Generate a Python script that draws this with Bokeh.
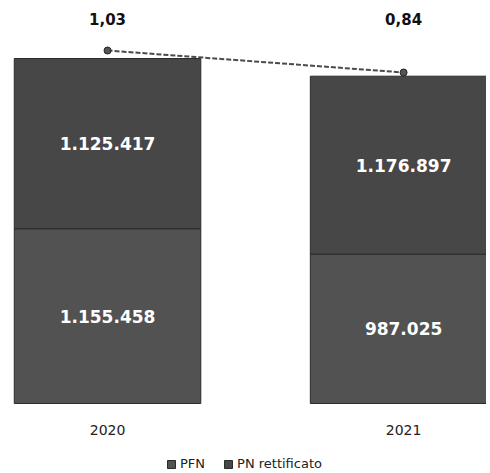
from bokeh.plotting import figure
from bokeh.models import Range1d, Legend, LegendItem, ColumnDataSource
from bokeh.core.properties import value
from bokeh.embed import file_html
from bokeh.resources import INLINE

years = ["2020", "2021"]
pfn = [1155458, 987025]
pn_rettificato = [1125417, 1176897]
ratios = [1.03, 0.84]

def it_num(v):
    return f"{v:,}".replace(",", ".")

def it_dec(v):
    return f"{v:.2f}".replace(".", ",")

xs = list(range(len(years)))
totals = [a + b for a, b in zip(pfn, pn_rettificato)]

W, H = 486, 471
top_pad, left_pad = 8, 8
base_px = 403          # page y of the bar baseline
frame_h = H - top_pad
u = max(totals) / 345.0  # data units per pixel
p = figure(width=W, height=H, output_backend="svg", toolbar_location=None,
           x_range=Range1d(-0.3345, 1.280),
           y_range=Range1d(-(H - base_px) * u, (base_px - top_pad) * u),
           min_border_left=left_pad, min_border_right=0, min_border_top=top_pad,
           min_border_bottom=0, x_axis_location=None, y_axis_location=None)
p.outline_line_color = None
p.grid.visible = False
p.background_fill_color = "white"

# secondary range for ratio line
per_px = (ratios[0] - ratios[1]) / 22.0
r_end = ratios[0] + (50 - top_pad) * per_px
r_start = r_end - frame_h * per_px
p.extra_y_ranges = {"ratio": Range1d(r_start, r_end)}

src = ColumnDataSource(dict(
    x=xs, year=years,
    pfn_top=pfn, pn_bottom=pfn, pn_top=totals,
    pfn_mid=[v / 2 for v in pfn],
    pn_mid=[a + b / 2 for a, b in zip(pfn, pn_rettificato)],
    pfn_lbl=[it_num(v) for v in pfn],
    pn_lbl=[it_num(v) for v in pn_rettificato],
    ratio=ratios,
    ratio_lbl=[it_dec(v) for v in ratios],
    ratio_lbl_y=[r_end - 10 * per_px] * len(ratios),
    year_y=[-26 * u] * len(years),
))

c_pfn = "#525252"
c_pn = "#474747"
r1 = p.vbar(x="x", bottom=0, top="pfn_top", width=0.63, source=src,
            fill_color=c_pfn, line_color="#2a2a2a", line_width=1)
r2 = p.vbar(x="x", bottom="pn_bottom", top="pn_top", width=0.63, source=src,
            fill_color=c_pn, line_color="#2a2a2a", line_width=1)

lbl_kw = dict(text_color="white", text_font=value("DejaVu Sans"),
              text_font_style="bold", text_font_size="17px",
              text_align="center", text_baseline="middle")
p.text(x="x", y="pfn_mid", text="pfn_lbl", source=src, **lbl_kw)
p.text(x="x", y="pn_mid", text="pn_lbl", source=src, **lbl_kw)

p.line(x="x", y="ratio", source=src, y_range_name="ratio",
       line_color="#4a4a4a", line_width=2, line_dash="5 2")
p.scatter(x="x", y="ratio", source=src, y_range_name="ratio",
          marker="circle", size=7, fill_color="#555555", line_color="#222222")
p.text(x="x", y="ratio_lbl_y", text="ratio_lbl", source=src, y_range_name="ratio",
       text_color="#111111", text_font=value("DejaVu Sans"),
       text_font_style="bold", text_font_size="15px",
       text_align="center", text_baseline="middle")

# category labels under the bars
p.text(x="x", y="year_y", text="year", source=src,
       text_color="#222222", text_font=value("DejaVu Sans"),
       text_font_size="14px", text_align="center", text_baseline="middle")

legend = Legend(items=[LegendItem(label="PFN", renderers=[r1]),
                       LegendItem(label="PN rettificato", renderers=[r2])],
                orientation="horizontal", location=(158, 0),
                glyph_width=10, glyph_height=10, label_text_font_size="13px",
                label_text_font="DejaVu Sans", label_text_color="#222222",
                label_standoff=4, spacing=18, padding=2, margin=0,
                label_height=13, border_line_color=None, background_fill_alpha=0)
p.add_layout(legend, "center")

open("out.html", "w").write(file_html(p, INLINE))
